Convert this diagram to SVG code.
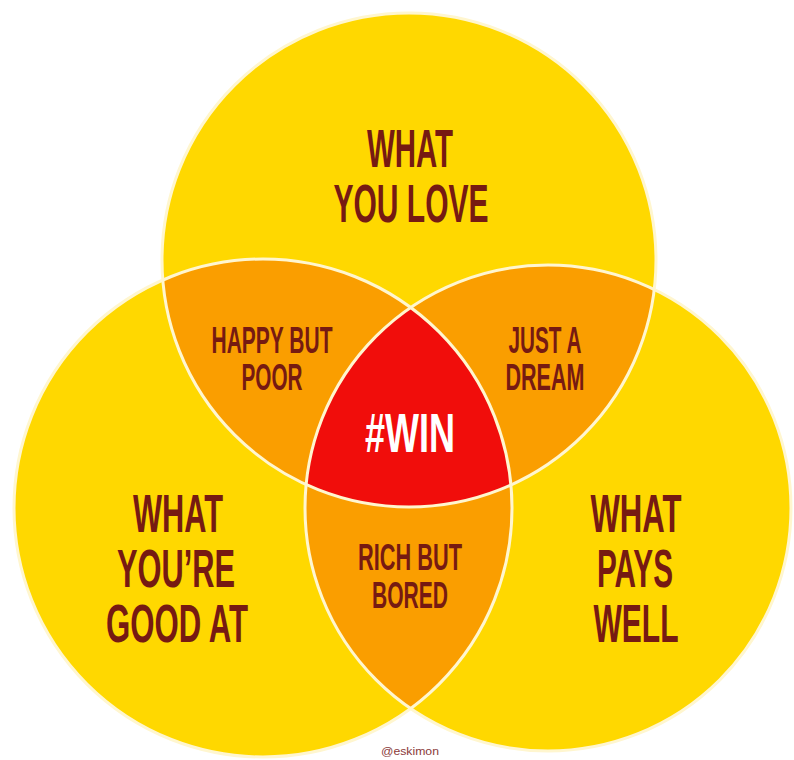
<svg xmlns="http://www.w3.org/2000/svg" width="794" height="760" viewBox="0 0 794 760">
  <style>
    .yellow { fill: #FFD800; }
    .orange { fill: #FA9E00; }
    .red { fill: #F10D0B; }
    .outline { fill: none; stroke: #FFF6CF; stroke-width: 3; }
    text { font-family: "Liberation Sans Narrow", "Liberation Sans", "DejaVu Sans Condensed", sans-serif; font-weight: bold; text-anchor: middle; }
    .lbl { fill: #761A12; }
    .big { font-size: 54px; }
    .mid { font-size: 36px; }
    .win { fill: #FFFFFF; font-size: 55px; }
    .credit { fill: #8A3A3A; font-size: 11px; font-weight: normal; }
  </style>
  <defs>
    <clipPath id="clipTop"><circle cx="409" cy="260" r="247"/></clipPath>
    <clipPath id="clipLeft"><circle cx="263" cy="508" r="249"/></clipPath>
    <clipPath id="clipRight"><circle cx="548" cy="508" r="243"/></clipPath>
  </defs>
  <rect x="0" y="0" width="794" height="760" fill="#FFFFFF"/>

  <g id="what-you-love">
    <circle class="yellow" cx="409" cy="260" r="247"/>
  </g>
  <g id="what-youre-good-at">
    <circle class="yellow" cx="263" cy="508" r="249"/>
  </g>
  <g id="what-pays-well">
    <circle class="yellow" cx="548" cy="508" r="243"/>
  </g>
  <g id="happy-but-poor">
    <circle class="orange" cx="263" cy="508" r="249" clip-path="url(#clipTop)"/>
  </g>
  <g id="just-a-dream">
    <circle class="orange" cx="548" cy="508" r="243" clip-path="url(#clipTop)"/>
  </g>
  <g id="rich-but-bored">
    <circle class="orange" cx="548" cy="508" r="243" clip-path="url(#clipLeft)"/>
  </g>
  <g id="win">
    <g clip-path="url(#clipTop)">
      <circle class="red" cx="548" cy="508" r="243" clip-path="url(#clipLeft)"/>
    </g>
  </g>
  <g id="outlines">
    <circle class="outline" cx="409" cy="260" r="247"/>
    <circle class="outline" cx="263" cy="508" r="249"/>
    <circle class="outline" cx="548" cy="508" r="243"/>
  </g>

  <g id="labels">
    <text class="lbl big" x="410" y="167" textLength="86" lengthAdjust="spacingAndGlyphs">WHAT</text>
    <text class="lbl big" x="411" y="222" textLength="155" lengthAdjust="spacingAndGlyphs">YOU LOVE</text>
    <text class="lbl mid" x="272" y="353" textLength="121" lengthAdjust="spacingAndGlyphs">HAPPY BUT</text>
    <text class="lbl mid" x="272" y="390" textLength="61" lengthAdjust="spacingAndGlyphs">POOR</text>
    <text class="lbl mid" x="545" y="353" textLength="73" lengthAdjust="spacingAndGlyphs">JUST A</text>
    <text class="lbl mid" x="545" y="390" textLength="79" lengthAdjust="spacingAndGlyphs">DREAM</text>
    <text class="win" x="410" y="452" textLength="90" lengthAdjust="spacingAndGlyphs">#WIN</text>
    <text class="lbl big" x="178" y="532" textLength="90" lengthAdjust="spacingAndGlyphs">WHAT</text>
    <text class="lbl big" x="176" y="587" textLength="118" lengthAdjust="spacingAndGlyphs">YOU’RE</text>
    <text class="lbl big" x="177" y="642" textLength="142" lengthAdjust="spacingAndGlyphs">GOOD AT</text>
    <text class="lbl mid" x="410" y="570" textLength="104" lengthAdjust="spacingAndGlyphs">RICH BUT</text>
    <text class="lbl mid" x="410" y="608" textLength="76" lengthAdjust="spacingAndGlyphs">BORED</text>
    <text class="lbl big" x="636" y="532" textLength="91" lengthAdjust="spacingAndGlyphs">WHAT</text>
    <text class="lbl big" x="635" y="587" textLength="76" lengthAdjust="spacingAndGlyphs">PAYS</text>
    <text class="lbl big" x="636" y="642" textLength="85" lengthAdjust="spacingAndGlyphs">WELL</text>
    <text class="credit" x="410" y="755" textLength="58" lengthAdjust="spacingAndGlyphs">@eskimon</text>
  </g>
</svg>
